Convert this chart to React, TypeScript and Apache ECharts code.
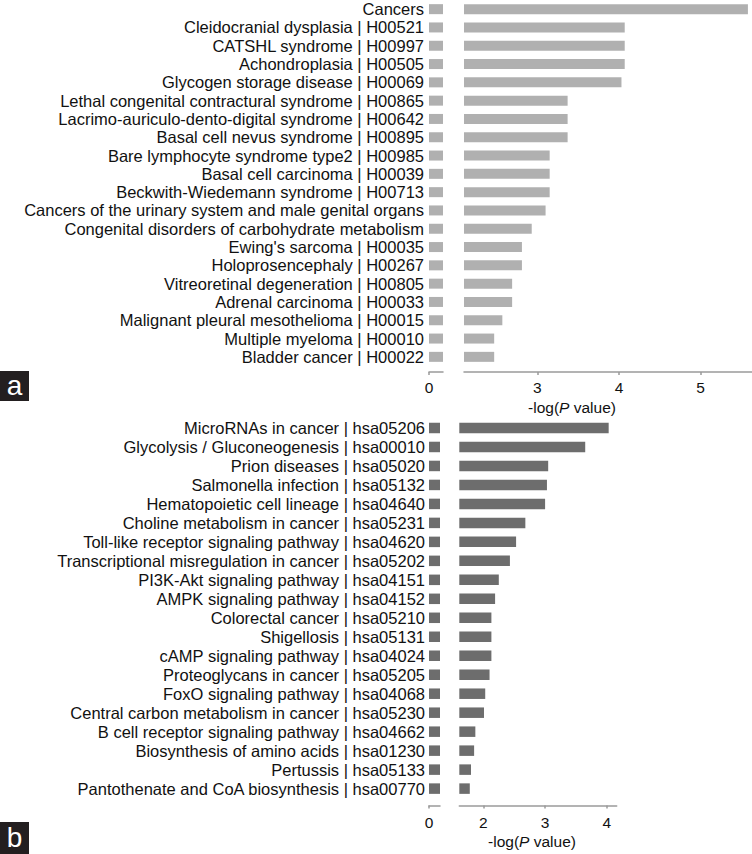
import React, { useEffect, useRef } from "react";
import * as echarts from "echarts";

const categoriesA = [
  "Cancers",
  "Cleidocranial dysplasia | H00521",
  "CATSHL syndrome | H00997",
  "Achondroplasia | H00505",
  "Glycogen storage disease | H00069",
  "Lethal congenital contractural syndrome | H00865",
  "Lacrimo-auriculo-dento-digital syndrome | H00642",
  "Basal cell nevus syndrome | H00895",
  "Bare lymphocyte syndrome type2 | H00985",
  "Basal cell carcinoma | H00039",
  "Beckwith-Wiedemann syndrome | H00713",
  "Cancers of the urinary system and male genital organs",
  "Congenital disorders of carbohydrate metabolism",
  "Ewing's sarcoma | H00035",
  "Holoprosencephaly | H00267",
  "Vitreoretinal degeneration | H00805",
  "Adrenal carcinoma | H00033",
  "Malignant pleural mesothelioma | H00015",
  "Multiple myeloma | H00010",
  "Bladder cancer | H00022",
];
const valuesA = [
  5.58, 4.07, 4.07, 4.07, 4.03, 3.37, 3.37, 3.37, 3.15, 3.15, 3.15, 3.1, 2.93,
  2.81, 2.81, 2.69, 2.69, 2.57, 2.47, 2.47,
];

const categoriesB = [
  "MicroRNAs in cancer | hsa05206",
  "Glycolysis / Gluconeogenesis | hsa00010",
  "Prion diseases | hsa05020",
  "Salmonella infection | hsa05132",
  "Hematopoietic cell lineage | hsa04640",
  "Choline metabolism in cancer | hsa05231",
  "Toll-like receptor signaling pathway | hsa04620",
  "Transcriptional misregulation in cancer | hsa05202",
  "PI3K-Akt signaling pathway | hsa04151",
  "AMPK signaling pathway | hsa04152",
  "Colorectal cancer | hsa05210",
  "Shigellosis | hsa05131",
  "cAMP signaling pathway | hsa04024",
  "Proteoglycans in cancer | hsa05205",
  "FoxO signaling pathway | hsa04068",
  "Central carbon metabolism in cancer | hsa05230",
  "B cell receptor signaling pathway | hsa04662",
  "Biosynthesis of amino acids | hsa01230",
  "Pertussis | hsa05133",
  "Pantothenate and CoA biosynthesis | hsa00770",
];
const valuesB = [
  4.03, 3.65, 3.05, 3.03, 3.0, 2.68, 2.53, 2.43, 2.25, 2.19, 2.13, 2.13, 2.13,
  2.1, 2.03, 2.01, 1.87, 1.85, 1.8, 1.78,
];

const ticksA = [3, 4, 5];
const ticksB = [2, 3, 4];
const ticksZero = [0];

const FONT = "'Liberation Sans', Arial, Helvetica, sans-serif";
const colorA = "#b0b0b0";
const colorB = "#6d6d6d";
const axisColor = "#9a9a9a";

export default function App() {
  const ref = useRef<HTMLDivElement>(null);
  useEffect(() => {
    document.body.style.margin = "0";
    const chart = echarts.init(ref.current!, null, { renderer: "svg" });

    const xAx = (
      gridIndex: number,
      min: number,
      max: number,
      ticks: number[],
      offset: number,
      margin: number
    ) => ({
      type: "value",
      gridIndex,
      min,
      max,
      offset,
      axisLine: { show: true, lineStyle: { color: axisColor, width: 1.5 } },
      axisTick: {
        show: true,
        customValues: ticks,
        length: 3,
        lineStyle: { color: axisColor, width: 1.5 },
      },
      axisLabel: {
        customValues: ticks,
        color: "#111",
        fontSize: 15.5,
        fontFamily: FONT,
        margin,
      },
      splitLine: { show: false },
    });

    const yAx = (gridIndex: number, data: string[], showLabel: boolean, margin: number) => ({
      type: "category",
      gridIndex,
      data,
      inverse: true,
      axisLine: { show: false },
      axisTick: { show: false },
      axisLabel: {
        show: showLabel,
        color: "#111",
        fontSize: 16.5,
        fontFamily: FONT,
        margin,
        interval: 0,
      },
    });

    const bar = (i: number, data: number[], color: string, w: number) => ({
      type: "bar",
      xAxisIndex: i,
      yAxisIndex: i,
      data,
      barWidth: w,
      clip: true,
      silent: true,
      itemStyle: { color },
    });

    const title = (x: number, y: number) => ({
      type: "text",
      x,
      y,
      style: {
        text: "-log({i|P} value)",
        rich: { i: { fontStyle: "italic", fontSize: 15.5, fontFamily: FONT, fill: "#111" } },
        fontSize: 15.5,
        fontFamily: FONT,
        fill: "#111",
        align: "center",
        verticalAlign: "middle",
      },
    });

    chart.setOption({
      animation: false,
      grid: [
        { left: 429, width: 14, top: 0, height: 366 },
        { left: 464, width: 288, top: 0, height: 366 },
        { left: 429, width: 11, top: 418.5, height: 379.6 },
        { left: 459.3, width: 157.4, top: 418.5, height: 379.6 },
      ],
      xAxis: [
        xAx(0, 0, 1, ticksZero, 6, 7),
        xAx(1, 2.1, 5.63, ticksA, 6, 7),
        xAx(2, 0, 1, ticksZero, 7.5, 9),
        xAx(3, 1.61, 4.16, ticksB, 7.5, 9),
      ],
      yAxis: [
        yAx(0, categoriesA, true, 5),
        yAx(1, categoriesA, false, 5),
        yAx(2, categoriesB, true, 4),
        yAx(3, categoriesB, false, 4),
      ],
      series: [
        bar(0, valuesA, colorA, 10),
        bar(1, valuesA, colorA, 10),
        bar(2, valuesB, colorB, 10.5),
        bar(3, valuesB, colorB, 10.5),
      ],
      graphic: [
        title(572, 407),
        title(532, 841),
        {
          type: "rect",
          shape: { x: 0, y: 371, width: 29, height: 30 },
          style: { fill: "#231f20" },
        },
        {
          type: "text",
          x: 14.5,
          y: 385,
          style: {
            text: "a",
            fontSize: 28,
            fontFamily: FONT,
            fill: "#fff",
            align: "center",
            verticalAlign: "middle",
          },
        },
        {
          type: "rect",
          shape: { x: 0, y: 822, width: 29, height: 32 },
          style: { fill: "#231f20" },
        },
        {
          type: "text",
          x: 14.5,
          y: 837,
          style: {
            text: "b",
            fontSize: 28,
            fontFamily: FONT,
            fill: "#fff",
            align: "center",
            verticalAlign: "middle",
          },
        },
      ],
    });
    return () => chart.dispose();
  }, []);
  return (
    <div
      ref={ref}
      style={{ position: "absolute", left: 0, top: 0, width: 752, height: 854 }}
    />
  );
}
